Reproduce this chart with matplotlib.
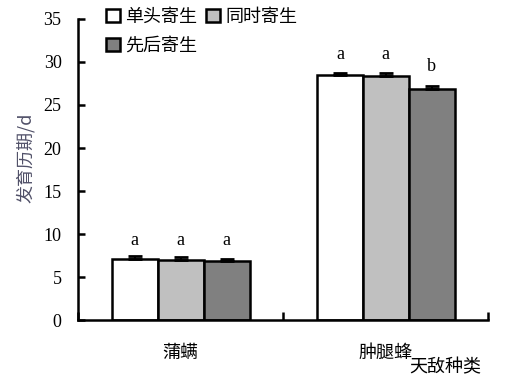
import numpy as np
import matplotlib.pyplot as plt
from matplotlib.patches import Patch

plt.rcParams['font.family'] = ['Liberation Serif', 'Noto Sans CJK SC']

groups = ['蒲螨', '肿腿蜂']
series = ['单头寄生', '同时寄生', '先后寄生']
means = [[7.1, 28.5],
         [7.05, 28.4],
         [6.9, 26.9]]
errors = [[0.35, 0.2],
          [0.25, 0.35],
          [0.2, 0.25]]
letters = [['a', 'a'], ['a', 'a'], ['a', 'b']]
letter_y = [[8.8, 30.3], [8.8, 30.3], [8.8, 28.9]]
colors = ['white', '#c0c0c0', '#808080']
cjk = ['Noto Sans CJK SC', 'Liberation Serif']

fig = plt.figure(figsize=(5.05, 3.85), dpi=100)
ax = fig.add_axes([0.155, 0.168, 0.812, 0.783])

x = np.arange(len(groups)) + 0.5
w = 0.224
for i, name in enumerate(series):
    xs = x + (i - 1) * w
    ax.bar(xs, means[i], width=w, color=colors[i], edgecolor='black',
           linewidth=1.8, label=name, zorder=2)
    ax.errorbar(xs, means[i], yerr=[np.zeros(2), errors[i]], fmt='none',
                ecolor='black', elinewidth=1.5, capsize=5, capthick=2, zorder=3)
    for j in range(len(groups)):
        ax.text(xs[j], letter_y[i][j], letters[i][j], ha='center',
                va='baseline', fontsize=13)

ax.set_xlim(0, 2)
ax.set_ylim(0, 35)
ax.set_yticks(range(0, 36, 5))
ax.set_xticks([0, 1, 2])
ax.set_xticklabels([])
ax.tick_params(direction='in', length=5, width=1.8, labelsize=13)
ax.tick_params(axis='y', pad=12)
ax.tick_params(axis='x', length=6)
for s in ['top', 'right']:
    ax.spines[s].set_visible(False)
for s in ['left', 'bottom']:
    ax.spines[s].set_linewidth(1.8)

for j, g in enumerate(groups):
    ax.text(x[j], -3.8, g, ha='center', va='center', fontsize=13, family=cjk)
ax.text(0.895, -5.5, '天敌种类', ha='center', va='center', fontsize=13,
        family=cjk, transform=ax.get_yaxis_transform())
ax.set_ylabel('发育历期/d', fontsize=13, color='#505068', family=cjk)
ax.yaxis.set_label_coords(-0.105, 0.54)

handles = [Patch(facecolor=c, edgecolor='black', linewidth=1.8) for c in colors]
order = [0, 2, 1]
ax.legend([handles[k] for k in order], [series[k] for k in order],
          loc='upper left', ncol=2, frameon=False,
          bbox_to_anchor=(0.05, 1.06), prop={'family': cjk, 'size': 13},
          handlelength=0.75, handleheight=0.75, handletextpad=0.3,
          columnspacing=0.5, labelspacing=0.6, borderaxespad=0)

fig.savefig('out.png', dpi=100)
